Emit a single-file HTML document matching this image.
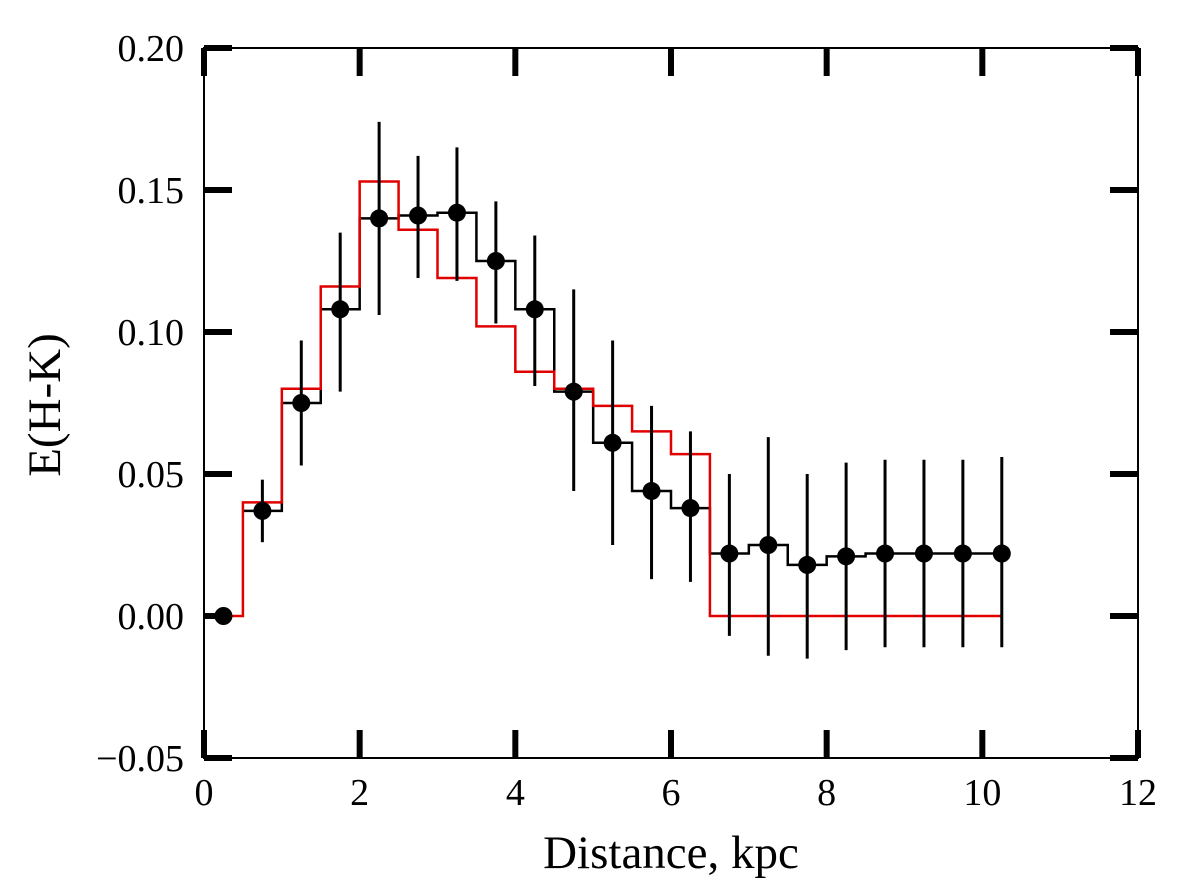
<!DOCTYPE html>
<html><head><meta charset="utf-8"><style>
html,body{margin:0;padding:0;background:#fff;width:1200px;height:895px;overflow:hidden}
svg text{font-family:"Liberation Serif",serif;fill:#000}
</style></head><body>
<svg id="chart" width="1200" height="895" xmlns="http://www.w3.org/2000/svg"></svg>
<script>
const xTicks=[0,2,4,6,8,10,12];
const yTicks=[-0.05,0,0.05,0.10,0.15,0.20];
const yTickLabels=["\u22120.05","0.00","0.05","0.10","0.15","0.20"];
const distances=[0.25,0.75,1.25,1.75,2.25,2.75,3.25,3.75,4.25,4.75,5.25,5.75,6.25,6.75,7.25,7.75,8.25,8.75,9.25,9.75,10.25];
const ehk=[0.000,0.037,0.075,0.108,0.140,0.141,0.142,0.125,0.108,0.079,0.061,0.044,0.038,0.022,0.025,0.018,0.021,0.022,0.022,0.022,0.022];
const errHigh=[null,0.048,0.097,0.135,0.174,0.162,0.165,0.146,0.134,0.115,0.097,0.074,0.065,0.050,0.063,0.050,0.054,0.055,0.055,0.055,0.056];
const errLow=[null,0.026,0.053,0.079,0.106,0.119,0.118,0.103,0.081,0.044,0.025,0.013,0.012,-0.007,-0.014,-0.015,-0.012,-0.011,-0.011,-0.011,-0.011];
const modelEdges=[0.25,0.5,1,1.5,2,2.5,3,3.5,4,4.5,5,5.5,6,6.5,10.25];
const modelValues=[0,0.040,0.080,0.116,0.153,0.136,0.119,0.102,0.086,0.080,0.074,0.065,0.057,0];

const L=204,R=1138,T=48,B=758;
const X=v=>L+(v-0)/12*(R-L);
const Y=v=>B-(v+0.05)/0.25*(B-T);
const svg=document.getElementById('chart');
const NS='http://www.w3.org/2000/svg';
function mk(tag,attrs,parent){const e=document.createElementNS(NS,tag);for(const k in attrs)e.setAttribute(k,attrs[k]);(parent||svg).appendChild(e);return e;}

let d='';
for(let i=1;i<distances.length;i++){
  const x0=X(distances[i]-0.25), x1=X(i===distances.length-1?distances[i]:distances[i]+0.25);
  d+=(i===1?'M':'L')+x0+','+Y(ehk[i])+'L'+x1+','+Y(ehk[i]);
}
const bs=mk('path',{d:d,fill:'none',stroke:'#000','stroke-width':2.5});



let rd='';
for(let i=0;i<modelValues.length;i++){
  rd+=(i===0?'M':'L')+X(modelEdges[i])+','+Y(modelValues[i])+'L'+X(modelEdges[i+1])+','+Y(modelValues[i]);
}
const rs=mk('path',{d:rd,fill:'none',stroke:'#e00000','stroke-width':2.5});



for(let i=0;i<distances.length;i++){
  if(errHigh[i]!==null){
    const eb=mk('line',{x1:X(distances[i]),x2:X(distances[i]),y1:Y(errHigh[i]),y2:Y(errLow[i]),stroke:'#000','stroke-width':3});
    
    
  }
  const p=mk('circle',{cx:X(distances[i]),cy:Y(ehk[i]),r:9,fill:'#000'});
  
  
}

const fr=mk('rect',{x:L,y:T,width:R-L,height:B-T,fill:'none',stroke:'#000','stroke-width':2});



xTicks.forEach(v=>{
  const x=X(v);
  const t1=mk('line',{x1:x,x2:x,y1:B,y2:B-28,stroke:'#000','stroke-width':6});
  
  
  const t2=mk('line',{x1:x,x2:x,y1:T,y2:T+28,stroke:'#000','stroke-width':6});
  
  
  const lb=mk('text',{x:x,y:B+47,'font-size':38,'text-anchor':'middle'});
  lb.textContent=String(v);
  
  
});
yTicks.forEach((v,i)=>{
  const y=Y(v);
  const t1=mk('line',{x1:L,x2:L+28,y1:y,y2:y,stroke:'#000','stroke-width':6});
  
  
  const t2=mk('line',{x1:R,x2:R-28,y1:y,y2:y,stroke:'#000','stroke-width':6});
  
  
  const lb=mk('text',{x:184,y:y+13,'font-size':38,'text-anchor':'end'});
  lb.textContent=yTickLabels[i];
  
  
});

const xt=mk('text',{x:671,y:868,'font-size':47,'text-anchor':'middle'});
xt.textContent='Distance, kpc';


const yt=mk('text',{x:0,y:0,'font-size':47,'text-anchor':'middle',transform:'translate(60,405) rotate(-90)'});
yt.textContent='E(H-K)';


</script>
</body></html>
